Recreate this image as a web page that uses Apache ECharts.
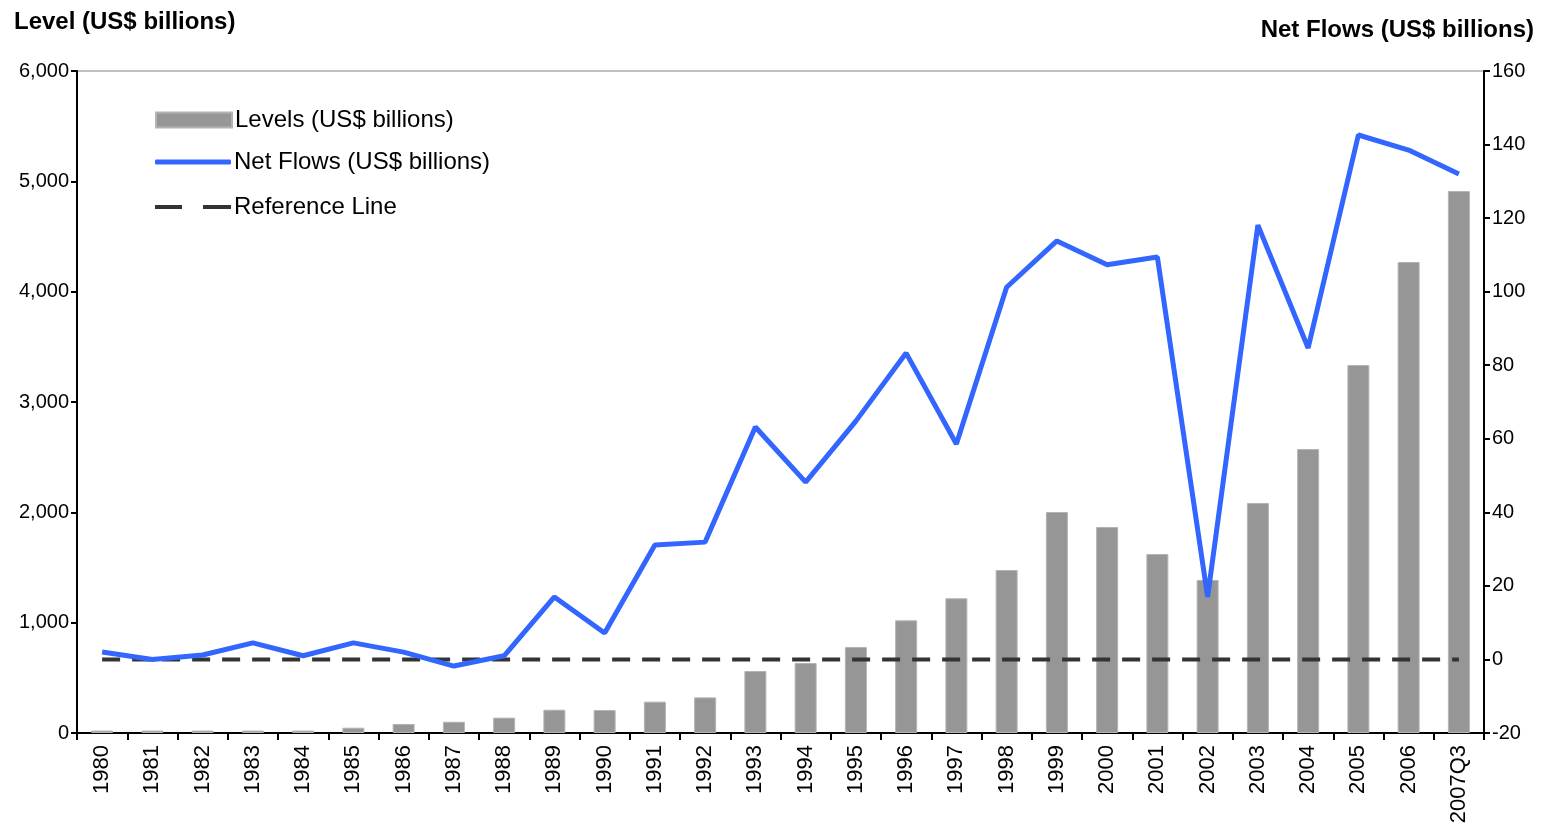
<!DOCTYPE html>
<html><head><meta charset="utf-8">
<script src="https://cdn.jsdelivr.net/npm/echarts@6/dist/echarts.min.js"></script>
<style>html,body{margin:0;padding:0;background:#fff}#c{width:1547px;height:824px}</style>
</head><body><div id="c"></div>
<script>
var categories = ['1980','1981','1982','1983','1984','1985','1986','1987','1988','1989','1990','1991','1992','1993','1994','1995','1996','1997','1998','1999','2000','2001','2002','2003','2004','2005','2006','2007Q3'];
var levels = [22,22,22,22,22,48,82,102,139,211,208,284,323,562,634,779,1021,1221,1477,2003,1867,1622,1387,2085,2574,3335,4269,4912];
var netFlows = [2.0,0.0,1.2,4.5,1.0,4.5,2.0,-1.8,1.0,17.0,7.2,31.1,31.9,63.2,48.2,64.8,83.3,58.6,101.2,113.8,107.3,109.4,17.0,118.1,84.7,142.6,138.5,132.0];
var referenceLine = categories.map(function(){return 0;});
var leftTicks = {min:0, max:6000, interval:1000};
var rightTicks = {min:-20, max:160, interval:20};

var font = 'Liberation Sans, Arial, sans-serif';
var chart = echarts.init(document.getElementById('c'));
var legendBase = {left:150, orient:'vertical', itemWidth:76, itemGap:0,
  textStyle:{fontFamily:font, fontSize:24, color:'#000', padding:[0,0,0,-2]}};
chart.setOption({
  animation:false,
  title:[
    {text:'Level (US$ billions)', left:9, top:5, textStyle:{fontFamily:font, fontSize:24, fontWeight:'bold', color:'#000'}},
    {text:'Net Flows (US$ billions)', right:8, top:13, textStyle:{fontFamily:font, fontSize:24, fontWeight:'bold', color:'#000'}}
  ],
  legend:[
    Object.assign({}, legendBase, {top:103, itemHeight:15, data:[{name:'Levels (US$ billions)', icon:'rect'}]}),
    Object.assign({}, legendBase, {top:145, itemHeight:5, data:[{name:'Net Flows (US$ billions)', icon:'roundRect'}]}),
    Object.assign({}, legendBase, {top:190, itemHeight:4, data:[{name:'Reference Line', icon:'path://M0,0h27v4h-27z M48,0h28v4h-28z'}]})
  ],
  grid:{left:77, right:63, top:71, bottom:91, show:true, borderColor:'#808080', borderWidth:1, outerBoundsMode:'none', containLabel:false},
  xAxis:{type:'category', data:categories, boundaryGap:true,
    axisLine:{lineStyle:{color:'#000', width:2}},
    axisTick:{show:true, length:7, lineStyle:{color:'#000', width:2}, alignWithLabel:false},
    axisLabel:{rotate:90, fontFamily:font, fontSize:22, color:'#000', margin:12, interval:0}},
  yAxis:[
    {type:'value', min:leftTicks.min, max:leftTicks.max, interval:leftTicks.interval, position:'left',
      axisLine:{show:true, lineStyle:{color:'#000', width:2}},
      axisTick:{show:true, length:6, lineStyle:{color:'#000', width:2}},
      splitLine:{show:false},
      axisLabel:{fontFamily:font, fontSize:20, color:'#000', margin:8,
        formatter:function(v){return v.toLocaleString('en-US');}}},
    {type:'value', min:rightTicks.min, max:rightTicks.max, interval:rightTicks.interval, position:'right',
      axisLine:{show:true, lineStyle:{color:'#000', width:2}},
      axisTick:{show:true, length:6, lineStyle:{color:'#000', width:2}},
      splitLine:{show:false},
      axisLabel:{fontFamily:font, fontSize:20, color:'#000', margin:8}}
  ],
  series:[
    {name:'Levels (US$ billions)', type:'bar', yAxisIndex:0, data:levels, barWidth:22,
      itemStyle:{color:'#969696', borderColor:'#b4b4b4', borderWidth:1}},
    {name:'Reference Line', type:'line', yAxisIndex:1, data:referenceLine, symbol:'none',
      lineStyle:{color:'#333333', width:4, type:[18,12]}, itemStyle:{color:'#333333'}, z:3},
    {name:'Net Flows (US$ billions)', type:'line', yAxisIndex:1, data:netFlows, symbol:'none',
      lineStyle:{color:'#3366FF', width:5}, itemStyle:{color:'#3366FF'}, z:4}
  ]
});
</script></body></html>
